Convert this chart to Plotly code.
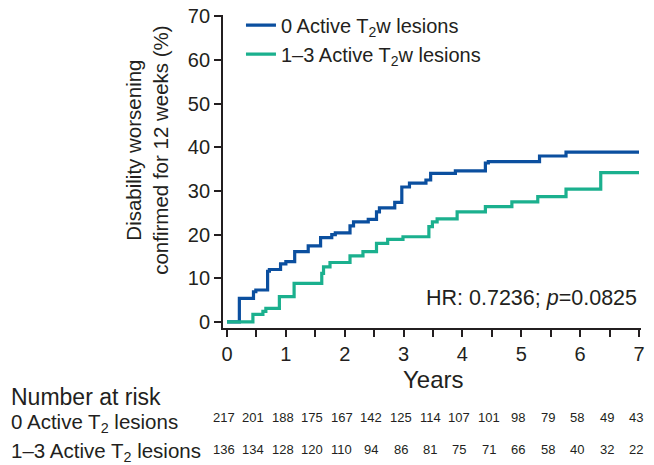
import plotly.graph_objects as go

# Kaplan-Meier style cumulative curves (step points)
t_zero = [0, 0.21, 0.45, 0.49, 0.69, 0.72, 0.91, 1.0, 1.15, 1.38, 1.59, 1.78, 1.84,
          2.09, 2.15, 2.40, 2.54, 2.59, 2.85, 2.97, 3.10, 3.38, 3.46, 3.88, 4.39,
          4.44, 5.31, 5.76, 7.0]
y_zero = [0, 5.4, 6.9, 7.3, 11.6, 12.0, 13.3, 13.8, 16.1, 17.4, 19.3, 20.0, 20.4,
          22.0, 22.9, 23.5, 25.2, 26.1, 27.4, 30.9, 31.8, 32.5, 34.0, 34.6, 36.4,
          36.7, 38.0, 38.9, 38.9]

t_one = [0, 0.44, 0.61, 0.66, 0.89, 1.14, 1.61, 1.64, 1.75, 2.09, 2.31, 2.54, 2.73,
         2.99, 3.43, 3.49, 3.57, 3.91, 4.39, 4.84, 5.28, 5.76, 6.35, 7.0]
y_one = [0, 1.7, 2.4, 3.1, 5.8, 8.8, 11.1, 12.6, 13.6, 15.1, 16.1, 18.0, 18.9,
         19.5, 21.8, 22.9, 23.6, 25.2, 26.4, 27.5, 28.7, 30.4, 34.2, 34.2]

series_names = ["0 Active T<sub>2</sub>w lesions", "1\u20133 Active T<sub>2</sub>w lesions"]

risk_times = [0, 0.5, 1, 1.5, 2, 2.5, 3, 3.5, 4, 4.5, 5, 5.5, 6, 6.5, 7]
risk_zero = [217, 201, 188, 175, 167, 142, 125, 114, 107, 101, 98, 79, 58, 49, 43]
risk_one = [136, 134, 128, 120, 110, 94, 86, 81, 75, 71, 66, 58, 40, 32, 22]
risk_labels = ["0 Active T<sub>2</sub> lesions", "1\u20133 Active T<sub>2</sub> lesions"]

x_tickvals = [0, 0.5, 1, 1.5, 2, 2.5, 3, 3.5, 4, 4.5, 5, 5.5, 6, 6.5, 7]
x_ticktext = ["0", "", "1", "", "2", "", "3", "", "4", "", "5", "", "6", "", "7"]
y_tickvals = [0, 10, 20, 30, 40, 50, 60, 70]

BLUE = "#0b4f9f"
TEAL = "#1bb08e"
INK = "#231f20"
FONT = "Liberation Sans, Arial, sans-serif"

fig = go.Figure()
fig.add_trace(go.Scatter(x=t_zero, y=y_zero, mode="lines", line_shape="hv",
                         line=dict(color=BLUE, width=3.2), name=series_names[0]))
fig.add_trace(go.Scatter(x=t_one, y=y_one, mode="lines", line_shape="hv",
                         line=dict(color=TEAL, width=3.2), name=series_names[1]))

ann = []
# y title
ann.append(dict(text="Disability worsening<br>confirmed for 12 weeks (%)", xref="paper", yref="paper",
                x=-0.182, y=0.569, textangle=-90, showarrow=False, xanchor="center", yanchor="middle",
                font=dict(size=20.5, color=INK, family=FONT)))
# x title
ann.append(dict(text="Years", xref="x", yref="paper", x=3.5, y=-0.163, showarrow=False,
                xanchor="center", yanchor="middle", font=dict(size=24, color=INK, family=FONT)))
# HR
ann.append(dict(text="HR: 0.7236; <i>p</i>=0.0825", xref="x", yref="paper", x=7, y=0.096,
                showarrow=False, xanchor="right", yanchor="middle",
                font=dict(size=21.5, color=INK, family=FONT)))
# risk table
LABEL_X = -0.513
ann.append(dict(text="Number at risk", xref="paper", yref="paper", x=LABEL_X, y=-0.22,
                showarrow=False, xanchor="left", yanchor="middle",
                font=dict(size=23, color=INK, family=FONT)))
label_y = [-0.305, -0.397]
number_y = [-0.2875, -0.387]
for lab, yy in zip(risk_labels, label_y):
    ann.append(dict(text=lab, xref="paper", yref="paper", x=LABEL_X, y=yy,
                    showarrow=False, xanchor="left", yanchor="middle",
                    font=dict(size=20.5, color=INK, family=FONT)))
for vals, yy in zip([risk_zero, risk_one], number_y):
    for tt, v in zip(risk_times, vals):
        ann.append(dict(text=str(v), xref="x", yref="paper", x=tt, y=yy, xshift=-3,
                        showarrow=False, xanchor="center", yanchor="middle",
                        font=dict(size=13, color=INK, family=FONT)))

fig.update_layout(
    width=654, height=465,
    margin=dict(l=215, r=21, t=7, b=145, autoexpand=False),
    paper_bgcolor="white", plot_bgcolor="white",
    font=dict(family=FONT, color=INK, size=20),
    showlegend=True,
    legend=dict(x=0.043, y=1.03, xanchor="left", yanchor="top", bgcolor="rgba(0,0,0,0)",
                font=dict(size=20, color=INK, family=FONT), tracegroupgap=0),
    annotations=ann,
    xaxis=dict(range=[-0.068, 7.034], tickvals=x_tickvals, ticktext=x_ticktext,
               showline=True, linecolor=INK, linewidth=1.8, ticks="outside", ticklen=7,
               tickwidth=1.8, tickcolor=INK, showgrid=False, zeroline=False,
               ticklabeloverflow="allow",
               tickfont=dict(size=20, color=INK, family=FONT)),
    yaxis=dict(range=[-1.4, 70.3], tickvals=y_tickvals,
               showline=True, linecolor=INK, linewidth=1.8, ticks="outside", ticklen=7,
               tickwidth=1.8, tickcolor=INK, showgrid=False, zeroline=False,
               ticklabeloverflow="allow",
               tickfont=dict(size=20, color=INK, family=FONT)),
)

fig.write_html("out.html")
